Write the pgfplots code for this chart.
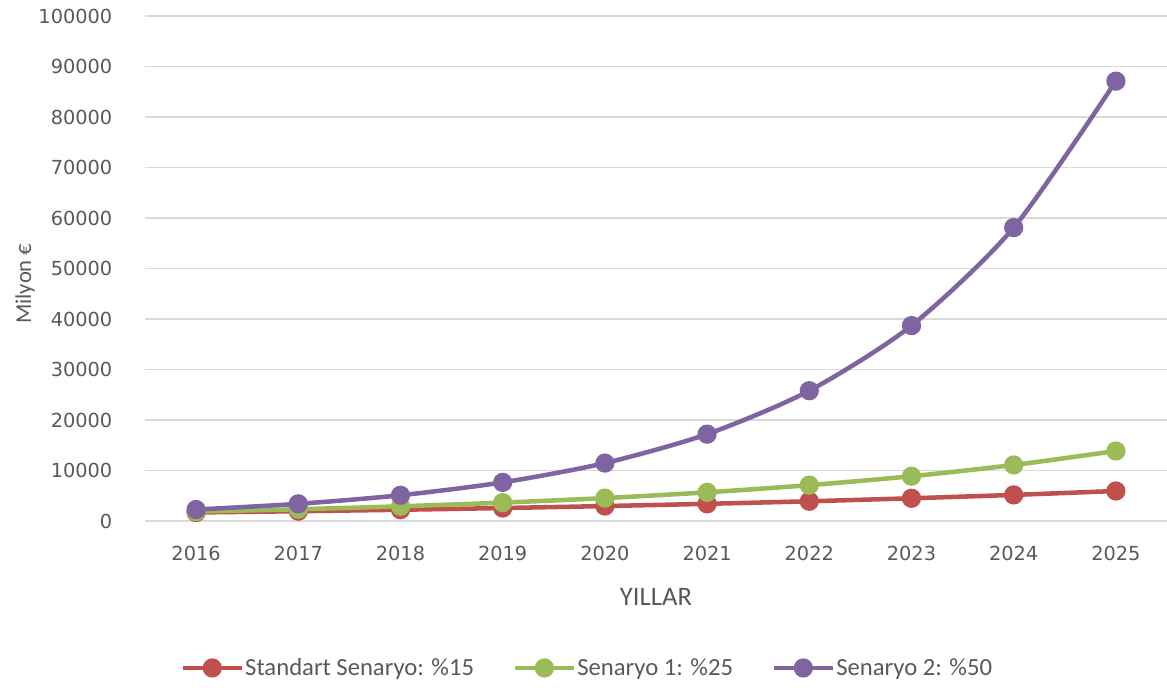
\documentclass[border=0pt]{standalone}
\usepackage{pgfplots}
\pgfplotsset{compat=1.18}
\usepackage{fontspec}
\setmainfont{Carlito}
\newfontfamily\tickfont{DejaVu Sans}
\definecolor{cred}{HTML}{C0504D}
\definecolor{cgreen}{HTML}{9BBB59}
\definecolor{cpurple}{HTML}{8064A2}
\definecolor{txt}{HTML}{595959}
\definecolor{grd}{HTML}{D9D9D9}
\begin{document}
\begin{tikzpicture}
\path[use as bounding box] (-108.75pt,-126pt) rectangle (766.5pt,390.75pt);
\begin{axis}[
  scale only axis,
  width=766.5pt, height=378.75pt,
  at={(0,0)}, anchor=south west,
  xmin=-0.5, xmax=9.5,
  ymin=0, ymax=100000,
  ytick={0,10000,...,100000},
  xtick={0,...,9},
  xticklabels={2016,2017,2018,2019,2020,2021,2022,2023,2024,2025},
  scaled y ticks=false,
  yticklabel style={/pgf/number format/fixed,/pgf/number format/1000 sep={}},
  /pgf/number format/assume math mode=true,
  ticklabel style={font=\tickfont\fontsize{14.5pt}{16pt}\selectfont, text=txt},
  xticklabel style={yshift=-15pt},
  yticklabel style={xshift=-21pt},
  major tick length=0pt,
  axis line style={draw=none},
  ymajorgrids,
  grid style={grd, line width=0.9pt},
  xlabel={YILLAR},
  ylabel={Milyon €},
  label style={text=txt},
  xlabel style={font=\fontsize{20pt}{22pt}\selectfont, yshift=-14pt},
  ylabel style={font=\fontsize{17pt}{19pt}\selectfont, at={(ticklabel cs:0.47)}, yshift=-4pt},
  legend columns=3,
  legend style={at={(0.4325,-0.291)}, anchor=center, draw=none, fill=none,
    font=\fontsize{18.5pt}{20pt}\selectfont, text=txt,
    nodes={inner xsep=1pt},
    /tikz/every even column/.append style={column sep=28pt}},
  legend image code/.code={\draw[#1, mark repeat=2, mark phase=2] plot coordinates {(0pt,0pt) (22pt,0pt) (44pt,0pt)};},
  every axis plot/.append style={line width=3.4pt, mark=*, mark size=5.5pt, smooth, tension=0.45},
]
\addplot[cred, mark options={fill=cred, draw=cred}] coordinates {
(0,1690) (1,1940) (2,2230) (3,2570) (4,2960) (5,3400) (6,3910) (7,4500) (8,5170) (9,5940)};
\addplot[cgreen, mark options={fill=cgreen, draw=cgreen}] coordinates {
(0,1860) (1,2330) (2,2910) (3,3640) (4,4540) (5,5680) (6,7100) (7,8870) (8,11090) (9,13860)};
\addplot[cpurple, mark options={fill=cpurple, draw=cpurple}] coordinates {
(0,2270) (1,3400) (2,5100) (3,7650) (4,11470) (5,17200) (6,25800) (7,38700) (8,58100) (9,87100)};
\legend{Standart Senaryo: \%15, Senaryo 1: \%25, Senaryo 2: \%50}
\end{axis}
\end{tikzpicture}
\end{document}
